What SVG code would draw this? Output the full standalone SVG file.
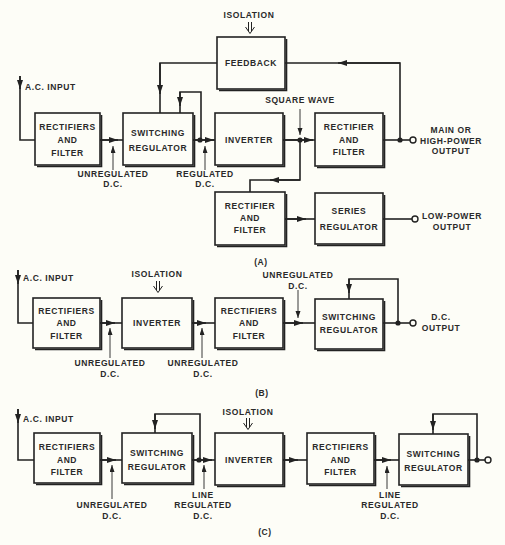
<svg xmlns="http://www.w3.org/2000/svg" width="505" height="545" viewBox="0 0 505 545">
<defs>
<marker id="ah" markerUnits="userSpaceOnUse" markerWidth="10" markerHeight="8" refX="9" refY="3" orient="auto"><path d="M0,0 L9,3 L0,6 z" fill="#222"/></marker>
<marker id="ap" markerUnits="userSpaceOnUse" markerWidth="8" markerHeight="6" refX="7" refY="2.5" orient="auto"><path d="M0,0 L7,2.5 L0,5 z" fill="#222"/></marker>
<style>
.bx{fill:#fdfdf7;stroke:#222;stroke-width:1.6}
.sh{fill:none;stroke:#222;stroke-width:1.6}
.ln{fill:none;stroke:#222;stroke-width:1.6}
.a{fill:none;stroke:#222;stroke-width:1.6;marker-end:url(#ah)}
.p{fill:none;stroke:#222;stroke-width:0.9;marker-end:url(#ap)}
.dot{fill:#222}
.oc{fill:#fdfdf7;stroke:#222;stroke-width:1.4}
text{font-family:"Liberation Sans",Arial,sans-serif;font-weight:bold;font-size:8.5px;letter-spacing:0.6px;fill:#2a2a2a;text-anchor:middle}
.st{text-anchor:start}
</style>
</defs>
<rect width="505" height="545" fill="#fdfdf7"/>

<!-- Section A nodes -->
<g id="A_rectifiers"><rect class="bx" x="35" y="113" width="65" height="52"/><path class="sh" d="M101.5,115 V166.5 H37"/><text x="67.5" y="130">RECTIFIERS</text><text x="67.5" y="143">AND</text><text x="67.5" y="156">FILTER</text></g>
<g id="A_switching"><rect class="bx" x="123" y="113" width="70" height="52"/><path class="sh" d="M194.5,115 V166.5 H125"/><text x="158" y="136">SWITCHING</text><text x="158" y="151">REGULATOR</text></g>
<g id="A_inverter"><rect class="bx" x="215" y="113" width="68" height="52"/><path class="sh" d="M284.5,115 V166.5 H217"/><text x="249" y="143">INVERTER</text></g>
<g id="A_feedback"><rect class="bx" x="217" y="37" width="68" height="52"/><path class="sh" d="M286.5,39 V90.5 H219"/><text x="251" y="66">FEEDBACK</text></g>
<g id="A_rectifier_main"><rect class="bx" x="315" y="113" width="68" height="53"/><path class="sh" d="M384.5,115 V167.5 H317"/><text x="349" y="130">RECTIFIER</text><text x="349" y="143">AND</text><text x="349" y="155">FILTER</text></g>
<g id="A_rectifier_low"><rect class="bx" x="215" y="192" width="70" height="53"/><path class="sh" d="M286.5,194 V246.5 H217"/><text x="250" y="209">RECTIFIER</text><text x="250" y="221">AND</text><text x="250" y="233">FILTER</text></g>
<g id="A_series"><rect class="bx" x="315" y="193" width="68" height="51"/><path class="sh" d="M384.5,195 V245.5 H317"/><text x="349" y="214">SERIES</text><text x="349" y="230">REGULATOR</text></g>

<!-- Section B nodes -->
<g id="B_rectifiers"><rect class="bx" x="33" y="298" width="67" height="50"/><path class="sh" d="M101.5,300 V349.5 H35"/><text x="66.5" y="314">RECTIFIERS</text><text x="66.5" y="326">AND</text><text x="66.5" y="339">FILTER</text></g>
<g id="B_inverter"><rect class="bx" x="122" y="298" width="70" height="50"/><path class="sh" d="M193.5,300 V349.5 H124"/><text x="157" y="326">INVERTER</text></g>
<g id="B_rectifiers2"><rect class="bx" x="215" y="298" width="68" height="50"/><path class="sh" d="M284.5,300 V349.5 H217"/><text x="249" y="314">RECTIFIERS</text><text x="249" y="326">AND</text><text x="249" y="339">FILTER</text></g>
<g id="B_switching"><rect class="bx" x="315" y="299" width="68" height="50"/><path class="sh" d="M384.5,301 V350.5 H317"/><text x="349" y="320">SWITCHING</text><text x="349" y="333">REGULATOR</text></g>

<!-- Section C nodes -->
<g id="C_rectifiers"><rect class="bx" x="34" y="433" width="66" height="50"/><path class="sh" d="M101.5,435 V484.5 H36"/><text x="67" y="450">RECTIFIERS</text><text x="67" y="463">AND</text><text x="67" y="475">FILTER</text></g>
<g id="C_switching"><rect class="bx" x="122" y="433" width="70" height="50"/><path class="sh" d="M193.5,435 V484.5 H124"/><text x="157" y="456">SWITCHING</text><text x="157" y="470">REGULATOR</text></g>
<g id="C_inverter"><rect class="bx" x="215" y="433" width="68" height="52"/><path class="sh" d="M284.5,435 V486.5 H217"/><text x="249" y="463">INVERTER</text></g>
<g id="C_rectifiers2"><rect class="bx" x="307" y="433" width="67" height="51"/><path class="sh" d="M375.5,435 V485.5 H309"/><text x="340.5" y="450">RECTIFIERS</text><text x="340.5" y="463">AND</text><text x="340.5" y="475">FILTER</text></g>
<g id="C_switching2"><rect class="bx" x="399" y="434" width="69" height="51"/><path class="sh" d="M469.5,436 V486.5 H401"/><text x="433.5" y="457">SWITCHING</text><text x="433.5" y="471">REGULATOR</text></g>

<g id="connectors">
<!-- A -->
<path class="ln" d="M20,76 V140 H35"/><path class="a" d="M20,76 V89"/>
<path class="ln" d="M100,140 H123"/><path class="a" d="M100,140 H118"/>
<path class="p" d="M113,170 V146"/>
<path class="ln" d="M217,63 H160 V113"/><path class="a" d="M160,63 V94"/>
<path class="ln" d="M201,140 V92 H180 V113"/><path class="a" d="M180,92 V106"/>
<path class="ln" d="M193,140 H215"/><path class="a" d="M193,140 H214"/><circle class="dot" cx="200" cy="140" r="2.6"/>
<path class="p" d="M205,170 V146"/>
<path class="ln" d="M283,140 H315"/><path class="a" d="M283,140 H313"/><circle class="dot" cx="300" cy="140" r="2.6"/>
<path class="p" d="M300,109 V135"/>
<path class="ln" d="M300,140 V180 H250 V192"/><path class="a" d="M300,180 H270"/>
<path class="ln" d="M383,140 H410"/><circle class="dot" cx="400" cy="140" r="2.6"/><circle class="oc" cx="413" cy="140" r="3"/>
<path class="ln" d="M400,140 V63 H285"/><path class="a" d="M400,63 H338"/>
<path class="ln" d="M285,219 H315"/><path class="a" d="M285,219 H306"/>
<path class="ln" d="M383,219 H412"/><circle class="oc" cx="415" cy="219" r="3"/>
<!-- B -->
<path class="ln" d="M18,270 V323 H33"/><path class="a" d="M18,270 V284"/>
<path class="ln" d="M100,323 H122"/><path class="a" d="M100,323 H115"/>
<path class="p" d="M110,358 V328"/>
<path class="ln" d="M192,323 H215"/><path class="a" d="M192,323 H206"/>
<path class="p" d="M202,358 V328"/>
<path class="ln" d="M283,323 H315"/><path class="a" d="M283,323 H303"/>
<path class="p" d="M298,290 V318"/>
<path class="ln" d="M383,323 H410"/><circle class="dot" cx="398" cy="323" r="2.6"/><circle class="oc" cx="413" cy="323" r="3"/>
<path class="ln" d="M398,323 V279 H349 V299"/><path class="a" d="M349,279 V293"/>
<!-- C -->
<path class="ln" d="M18,409 V460 H34"/><path class="a" d="M18,409 V423"/>
<path class="ln" d="M100,460 H122"/><path class="a" d="M100,460 H116"/>
<path class="p" d="M112,499 V465"/>
<path class="ln" d="M200,460 V414 H155 V433"/><path class="a" d="M155,414 V429"/>
<path class="ln" d="M192,460 H215"/><path class="a" d="M192,460 H212"/><circle class="dot" cx="199" cy="460" r="2.6"/>
<path class="p" d="M204,489 V465"/>
<path class="ln" d="M283,460 H307"/><path class="a" d="M283,460 H298"/>
<path class="ln" d="M374,460 H399"/><path class="a" d="M374,460 H391"/>
<path class="p" d="M387,489 V466"/>
<path class="ln" d="M477,460 V414 H433 V434"/><path class="a" d="M433,414 V430"/>
<path class="ln" d="M468,460 H485"/><circle class="dot" cx="477" cy="460" r="2.6"/><circle class="oc" cx="488" cy="460" r="3"/>
<!-- isolation arrows -->
<path class="ln" stroke-width="1" d="M248.5,22 V31 M251.5,22 V31 M245.5,27 L250,33.5 L254.5,27" style="stroke-width:1"/>
<path class="ln" d="M156.5,281 V290 M159.5,281 V290 M153.5,286 L158,292.5 L162.5,286" style="stroke-width:1"/>
<path class="ln" d="M246.5,418 V427 M249.5,418 V427 M243.5,423 L248,429.5 L252.5,423" style="stroke-width:1"/>
</g>

<g id="labels">
<text x="249" y="18">ISOLATION</text>
<text class="st" x="25" y="90">A.C. INPUT</text>
<text x="113" y="177">UNREGULATED</text><text x="113" y="187">D.C.</text>
<text x="205" y="177">REGULATED</text><text x="205" y="187">D.C.</text>
<text x="300" y="103">SQUARE WAVE</text>
<text x="451" y="133">MAIN OR</text><text x="451" y="144">HIGH-POWER</text><text x="451" y="154">OUTPUT</text>
<text x="452" y="219">LOW-POWER</text><text x="452" y="230">OUTPUT</text>
<text x="261" y="265">(A)</text>
<text class="st" x="23" y="281">A.C. INPUT</text>
<text x="157" y="277">ISOLATION</text>
<text x="110" y="366">UNREGULATED</text><text x="110" y="377">D.C.</text>
<text x="203" y="366">UNREGULATED</text><text x="203" y="377">D.C.</text>
<text x="298" y="278">UNREGULATED</text><text x="298" y="289">D.C.</text>
<text x="441" y="320">D.C.</text><text x="441" y="331">OUTPUT</text>
<text x="262" y="396">(B)</text>
<text class="st" x="23" y="422">A.C. INPUT</text>
<text x="248" y="415">ISOLATION</text>
<text x="112" y="508">UNREGULATED</text><text x="112" y="519">D.C.</text>
<text x="203" y="498">LINE</text><text x="203" y="508">REGULATED</text><text x="203" y="519">D.C.</text>
<text x="390" y="498">LINE</text><text x="390" y="508">REGULATED</text><text x="390" y="519">D.C.</text>
<text x="265" y="535">(C)</text>
</g>
</svg>
